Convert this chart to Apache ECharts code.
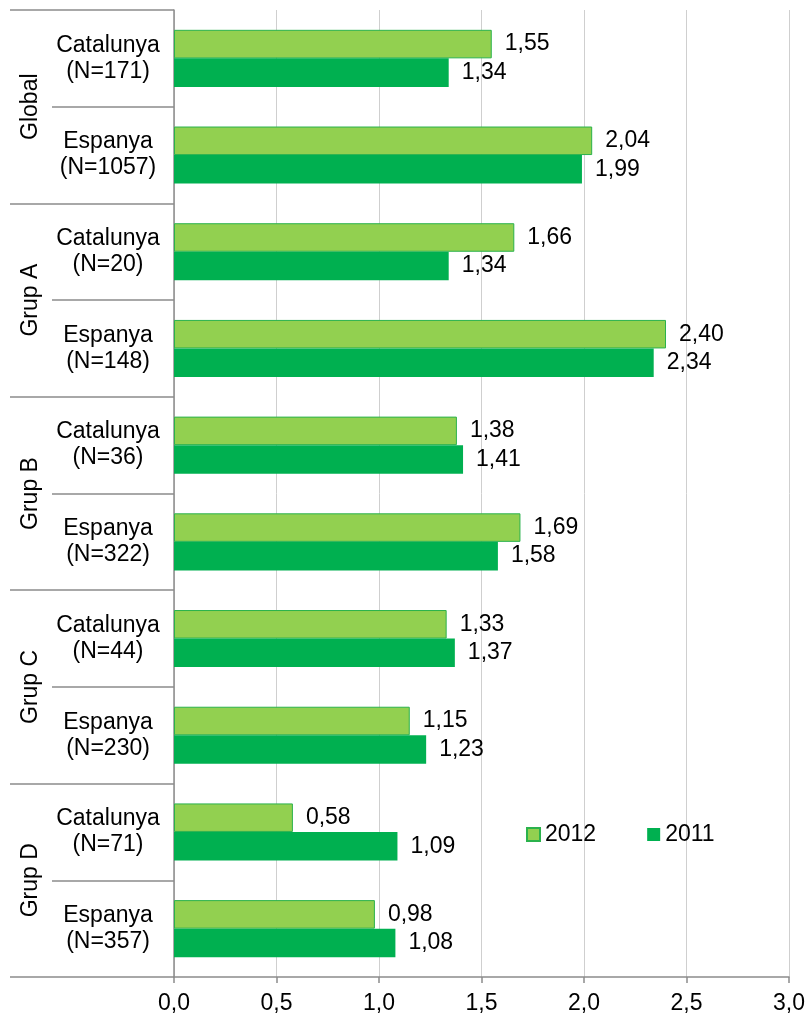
<!DOCTYPE html>
<html>
<head>
<meta charset="utf-8">
<script src="https://cdn.jsdelivr.net/npm/echarts@6/dist/echarts.min.js"></script>
<style>
  html, body { margin: 0; padding: 0; background: #fff; }
  #chart { width: 811px; height: 1020px; }
</style>
</head>
<body>
<div id="chart"></div>
<script>
// Rows from top to bottom
const categories = [
  'Catalunya\n(N=171)', 'Espanya\n(N=1057)',
  'Catalunya\n(N=20)', 'Espanya\n(N=148)',
  'Catalunya\n(N=36)', 'Espanya\n(N=322)',
  'Catalunya\n(N=44)', 'Espanya\n(N=230)',
  'Catalunya\n(N=71)', 'Espanya\n(N=357)'
];
const groups = ['Global', 'Grup A', 'Grup B', 'Grup C', 'Grup D'];
const values2012 = [1.55, 2.04, 1.66, 2.40, 1.38, 1.69, 1.33, 1.15, 0.58, 0.98];
const values2011 = [1.34, 1.99, 1.34, 2.34, 1.41, 1.58, 1.37, 1.23, 1.09, 1.08];
const seriesNames = ['2012', '2011'];

const FONT = 'Liberation Sans, Arial, sans-serif';
const FS = 23;
const AXIS_GRAY = '#8c8c8c';
const comma = v => Number(v).toFixed(2).replace('.', ',');

const chart = echarts.init(document.getElementById('chart'));
chart.setOption({
  animation: false,
  textStyle: { fontFamily: FONT },
  grid: { left: 174, right: 22, top: 10, bottom: 43, containLabel: false },
  legend: {
    data: seriesNames,
    left: 521, top: 818,
    itemWidth: 13, itemHeight: 13, itemGap: 51,
    textStyle: { fontFamily: FONT, fontSize: FS, color: '#000' },
    icon: 'rect'
  },
  xAxis: {
    type: 'value',
    min: 0, max: 3, interval: 0.5,
    axisLine: { show: true, lineStyle: { color: AXIS_GRAY, width: 1.5 } },
    axisTick: { show: true, length: 6, lineStyle: { color: AXIS_GRAY, width: 1.5 } },
    splitLine: { show: true, lineStyle: { color: '#cfcfcf', width: 1 } },
    axisLabel: {
      margin: 15, fontSize: FS, color: '#000', fontFamily: FONT,
      formatter: v => Number(v).toFixed(1).replace('.', ',')
    }
  },
  yAxis: [
    {
      type: 'category',
      data: categories,
      inverse: true,
      position: 'left',
      axisLine: { show: true, lineStyle: { color: AXIS_GRAY, width: 1.5 } },
      axisTick: { show: true, interval: 0, length: 122, lineStyle: { color: AXIS_GRAY, width: 1.5 } },
      axisLabel: {
        interval: 0, align: 'center', margin: 66,
        fontSize: FS, lineHeight: 26, color: '#000', fontFamily: FONT
      },
      splitLine: { show: false }
    },
    {
      type: 'category',
      data: groups,
      inverse: true,
      position: 'left',
      axisLine: { show: false },
      axisTick: { show: true, interval: 0, length: 164, lineStyle: { color: AXIS_GRAY, width: 1.5 } },
      axisLabel: {
        interval: 0, rotate: 90, margin: 132,
        fontSize: FS, color: '#000', fontFamily: FONT
      },
      splitLine: { show: false }
    }
  ],
  series: [
    {
      name: seriesNames[0],
      type: 'bar',
      yAxisIndex: 0,
      data: values2012,
      barGap: '0%',
      barCategoryGap: '41%',
      itemStyle: { color: '#92d050', borderColor: '#2bb24c', borderWidth: 1 },
      label: {
        show: true, position: 'right', distance: 13,
        fontSize: FS, color: '#000', fontFamily: FONT,
        formatter: p => comma(p.value)
      }
    },
    {
      name: seriesNames[1],
      type: 'bar',
      yAxisIndex: 0,
      data: values2011,
      barGap: '0%',
      barCategoryGap: '41%',
      itemStyle: { color: '#00b050' },
      label: {
        show: true, position: 'right', distance: 13,
        fontSize: FS, color: '#000', fontFamily: FONT,
        formatter: p => comma(p.value)
      }
    }
  ]
});
</script>
</body>
</html>
